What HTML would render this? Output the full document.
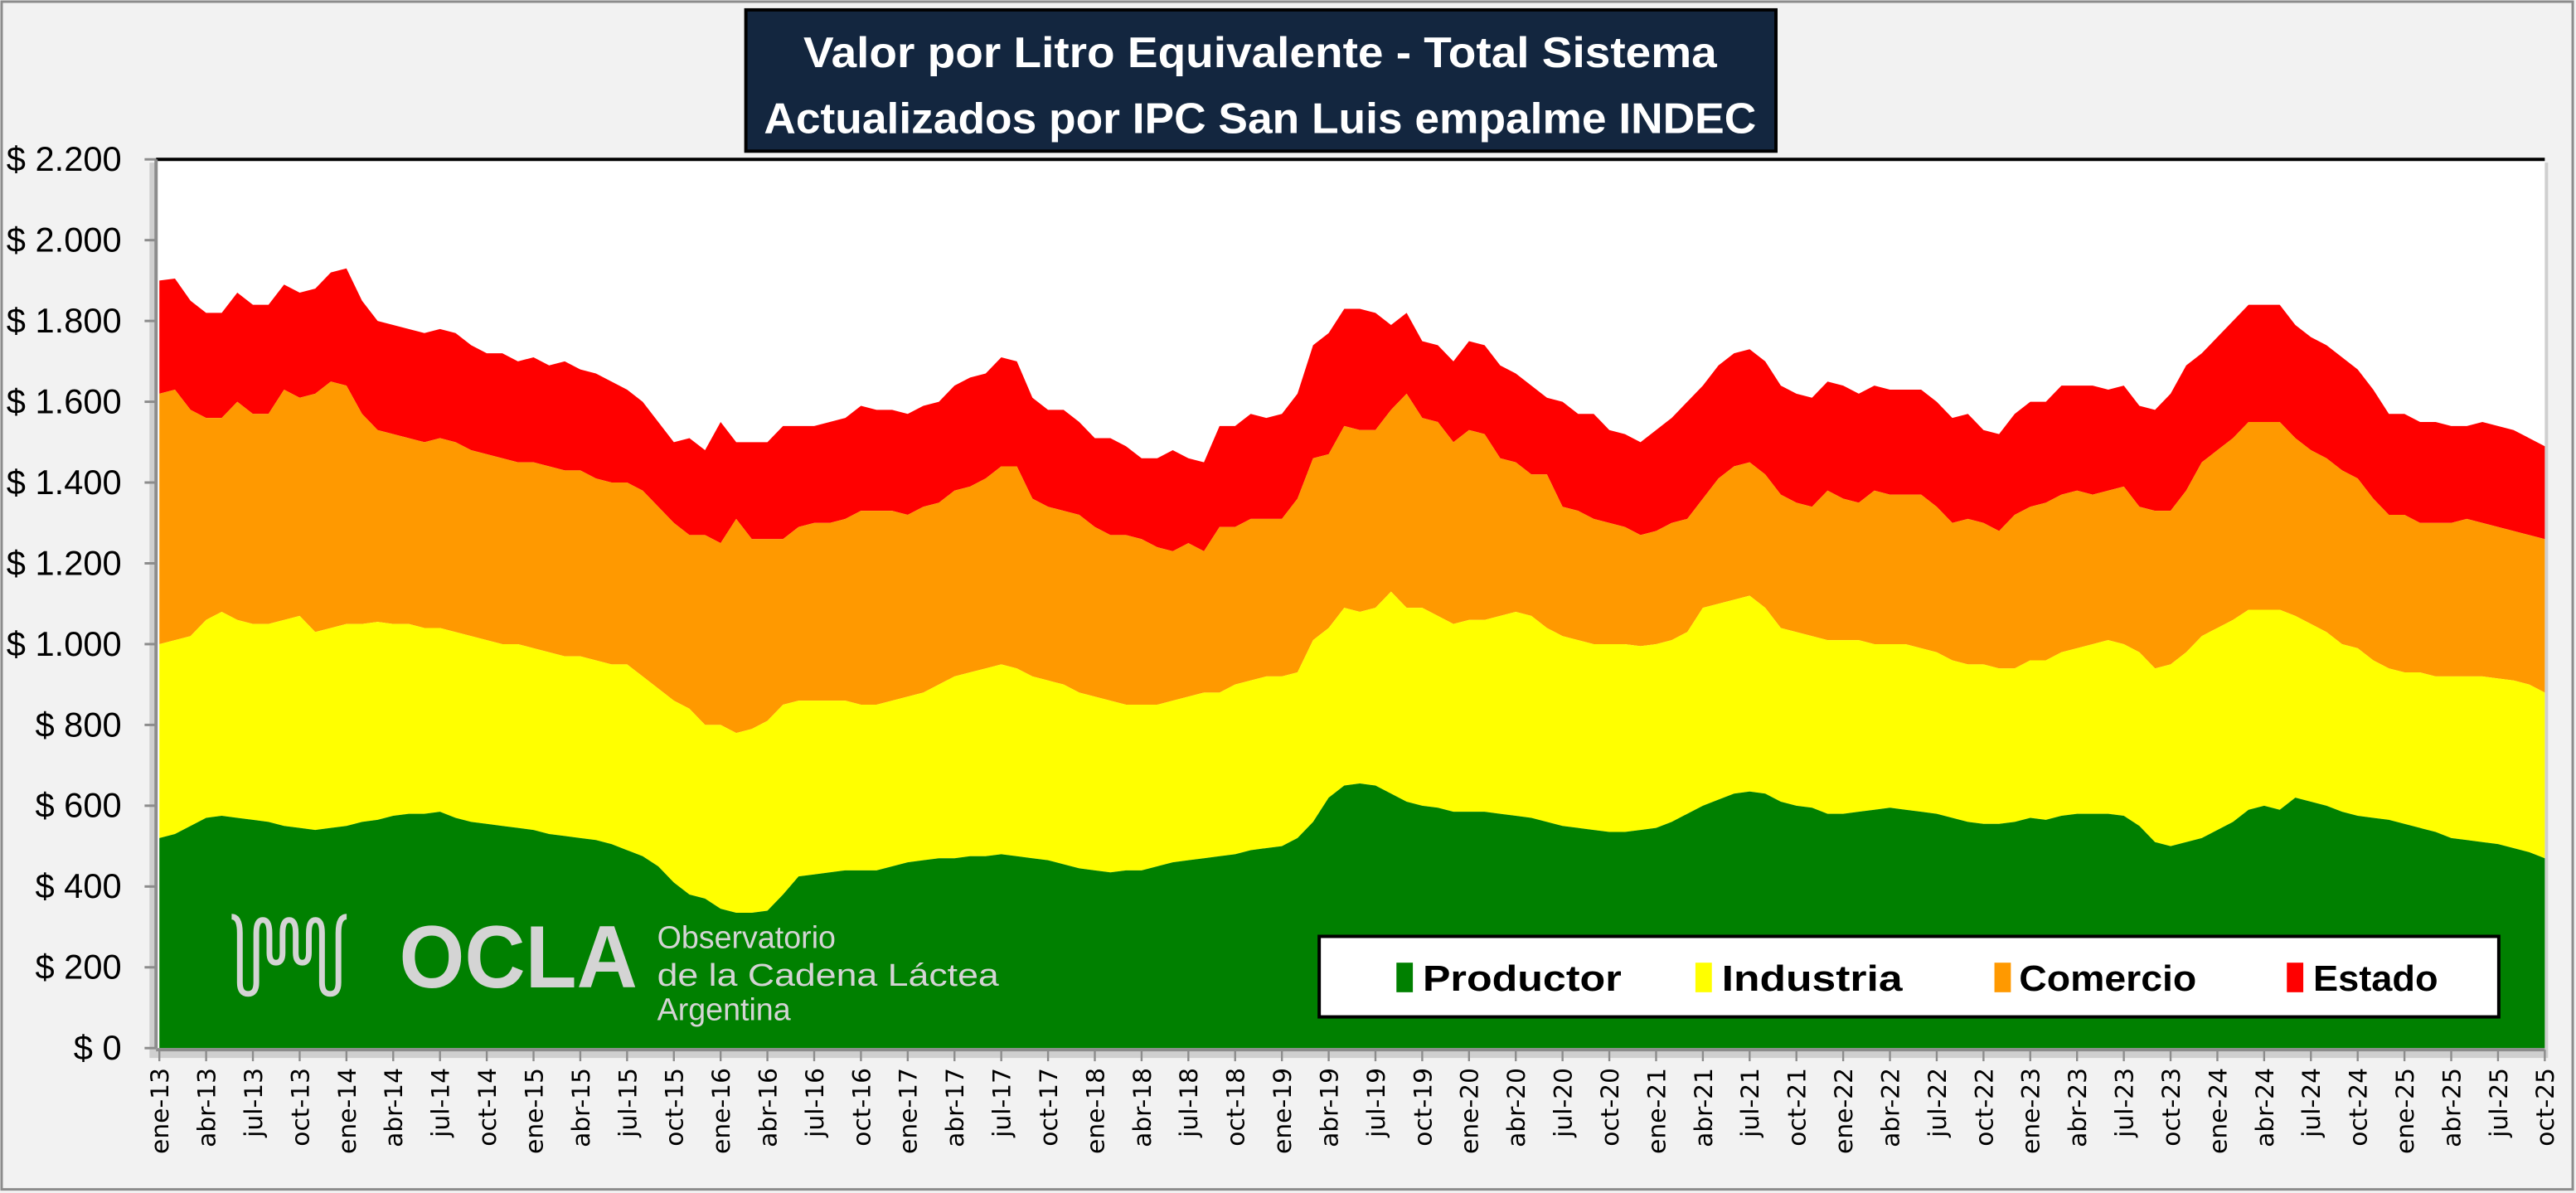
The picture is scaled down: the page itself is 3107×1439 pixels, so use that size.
<!DOCTYPE html>
<html><head><meta charset="utf-8">
<style>
html,body{margin:0;padding:0;background:#f2f2f2;}
svg{display:block;}
</style></head>
<body>
<svg id="chart" width="3107" height="1439" viewBox="0 0 1568 726.2" xmlns="http://www.w3.org/2000/svg" font-family="'Liberation Sans', sans-serif">
<rect x="1" y="1" width="1565" height="723" fill="#f2f2f2" stroke="#8c8c8c" stroke-width="1.5"/>
<rect x="91" y="99" width="1460" height="545" fill="#cfcfcf"/>
<rect x="95" y="97" width="1454" height="541" fill="#ffffff"/>
<g id="areas"></g>
<line x1="95" y1="97" x2="1549" y2="97" stroke="#000" stroke-width="2"/>
<line x1="95" y1="97" x2="95" y2="638" stroke="#8c8c8c" stroke-width="2"/>
<line x1="95" y1="639" x2="1549" y2="639" stroke="#8c8c8c" stroke-width="2"/>
<g id="yaxis"></g>
<g id="xaxis"></g>

<g fill="none" stroke="#d4d4d4" stroke-width="3.5">
<path d="M141,558 q5,0 5,10 v30 q0,7 5,7 q5,0 5,-7 v-30 q0,-8 4,-8 q4,0 4,8 v12 q0,6 4,6 q4,0 4,-6 v-12 q0,-8 4,-8 q4,0 4,8 v12 q0,6 4,6 q4,0 4,-6 v-12 q0,-8 4,-8 q4,0 4,8 v30 q0,7 5,7 q5,0 5,-7 v-30 q0,-10 5,-10"/>
</g>
<text x="243" y="601" font-size="54" font-weight="bold" fill="#d4d4d4" textLength="145" lengthAdjust="spacingAndGlyphs">OCLA</text>
<text x="400" y="577" font-size="19" fill="#d4d4d4">Observatorio</text>
<text x="400" y="600" font-size="19" fill="#d4d4d4" textLength="208" lengthAdjust="spacingAndGlyphs">de la Cadena Láctea</text>
<text x="400" y="621" font-size="19" fill="#d4d4d4">Argentina</text>

<g>
<rect x="803" y="570" width="718" height="49" fill="#fff" stroke="#000" stroke-width="2"/>
<rect x="850" y="586" width="10" height="18" fill="#008000"/>
<text x="866" y="603" font-size="22" font-weight="bold" textLength="121" lengthAdjust="spacingAndGlyphs">Productor</text>
<rect x="1032" y="586" width="10" height="18" fill="#ffff00"/>
<text x="1048" y="603" font-size="22" font-weight="bold" textLength="110" lengthAdjust="spacingAndGlyphs">Industria</text>
<rect x="1214" y="586" width="10" height="18" fill="#ff9900"/>
<text x="1229" y="603" font-size="22" font-weight="bold" textLength="108" lengthAdjust="spacingAndGlyphs">Comercio</text>
<rect x="1392" y="586" width="10" height="18" fill="#ff0000"/>
<text x="1408" y="603" font-size="22" font-weight="bold" textLength="76" lengthAdjust="spacingAndGlyphs">Estado</text>
</g>

<g>
<rect x="454" y="6" width="627" height="86" fill="#13263f" stroke="#000" stroke-width="2"/>
<text x="767" y="41" text-anchor="middle" font-size="26" font-weight="bold" fill="#fff" textLength="556" lengthAdjust="spacingAndGlyphs">Valor por Litro Equivalente - Total Sistema</text>
<text x="767" y="81" text-anchor="middle" font-size="26" font-weight="bold" fill="#fff" textLength="604" lengthAdjust="spacingAndGlyphs">Actualizados por IPC San Luis empalme INDEC</text>
</g>
</svg>
<script>
// cumulative stacked levels (monthly, ene-13 .. oct-25)
const productor = [
520,530,550,570,575,570,565,560,550,545,540,545,
550,560,565,575,580,580,585,570,560,555,550,545,
540,530,525,520,515,505,490,475,450,410,380,370,
345,335,335,340,380,425,430,435,440,440,440,450,
460,465,470,470,475,475,480,475,470,465,455,445,
440,435,440,440,450,460,465,470,475,480,490,495,
500,520,560,620,650,655,650,630,610,600,595,585,
585,585,580,575,570,560,550,545,540,535,535,540,
545,560,580,600,615,630,635,630,610,600,595,580,
580,585,590,595,590,585,580,570,560,555,555,560,
570,565,575,580,580,580,575,550,510,500,510,520,
540,560,590,600,590,620,610,600,585,575,570,565,
555,545,535,520,515,510,505,495,485,470];
const hastaIndustria = [
1000,1010,1020,1060,1080,1060,1050,1050,1060,1070,1030,1040,
1050,1050,1055,1050,1050,1040,1040,1030,1020,1010,1000,1000,
990,980,970,970,960,950,950,920,890,860,840,800,
800,780,790,810,850,860,860,860,860,850,850,860,
870,880,900,920,930,940,950,940,920,910,900,880,
870,860,850,850,850,860,870,880,880,900,910,920,
920,930,1010,1040,1090,1080,1090,1130,1090,1090,1070,1050,
1060,1060,1070,1080,1070,1040,1020,1010,1000,1000,1000,995,
1000,1010,1030,1090,1100,1110,1120,1090,1040,1030,1020,1010,
1010,1010,1000,1000,1000,990,980,960,950,950,940,940,
960,960,980,990,1000,1010,1000,980,940,950,980,1020,
1040,1060,1085,1085,1085,1070,1050,1030,1000,990,960,940,
930,930,920,920,920,920,915,910,900,880];
const hastaComercio = [
1620,1630,1580,1560,1560,1600,1570,1570,1630,1610,1620,1650,
1640,1570,1530,1520,1510,1500,1510,1500,1480,1470,1460,1450,
1450,1440,1430,1430,1410,1400,1400,1380,1340,1300,1270,1270,
1250,1310,1260,1260,1260,1290,1300,1300,1310,1330,1330,1330,
1320,1340,1350,1380,1390,1410,1440,1440,1360,1340,1330,1320,
1290,1270,1270,1260,1240,1230,1250,1230,1290,1290,1310,1310,
1310,1360,1460,1470,1540,1530,1530,1580,1620,1560,1550,1500,
1530,1520,1460,1450,1420,1420,1340,1330,1310,1300,1290,1270,
1280,1300,1310,1360,1410,1440,1450,1420,1370,1350,1340,1380,
1360,1350,1380,1370,1370,1370,1340,1300,1310,1300,1280,1320,
1340,1350,1370,1380,1370,1380,1390,1340,1330,1330,1380,1450,
1480,1510,1550,1550,1550,1510,1480,1460,1430,1410,1360,1320,
1320,1300,1300,1300,1310,1300,1290,1280,1270,1260];
const hastaEstado = [
1900,1905,1850,1820,1820,1870,1840,1840,1890,1870,1880,1920,
1930,1850,1800,1790,1780,1770,1780,1770,1740,1720,1720,1700,
1710,1690,1700,1680,1670,1650,1630,1600,1550,1500,1510,1480,
1550,1500,1500,1500,1540,1540,1540,1550,1560,1590,1580,1580,
1570,1590,1600,1640,1660,1670,1710,1700,1610,1580,1580,1550,
1510,1510,1490,1460,1460,1480,1460,1450,1540,1540,1570,1560,
1570,1620,1740,1770,1830,1830,1820,1790,1820,1750,1740,1700,
1750,1740,1690,1670,1640,1610,1600,1570,1570,1530,1520,1500,
1530,1560,1600,1640,1690,1720,1730,1700,1640,1620,1610,1650,
1640,1620,1640,1630,1630,1630,1600,1560,1570,1530,1520,1570,
1600,1600,1640,1640,1640,1630,1640,1590,1580,1620,1690,1720,
1760,1800,1840,1840,1840,1790,1760,1740,1710,1680,1630,1570,
1570,1550,1550,1540,1540,1550,1540,1530,1510,1490];
const yTicks = [0,200,400,600,800,1000,1200,1400,1600,1800,2000,2200];
const yTickLabels = ["$ 0","$ 200","$ 400","$ 600","$ 800","$ 1.000","$ 1.200","$ 1.400","$ 1.600","$ 1.800","$ 2.000","$ 2.200"];
const monthNames = ["ene","feb","mar","abr","may","jun","jul","ago","sep","oct","nov","dic"];
const startYear = 13;

const NS = "http://www.w3.org/2000/svg";
const X0 = 97, X1 = 1549, Y0 = 638, Y1 = 97, YMAX = 2200;
const n = productor.length;
function xScale(i){ return X0 + (X1 - X0) * i / (n - 1); }
function yScale(v){ return Y0 - (Y0 - Y1) * v / YMAX; }

const areas = document.getElementById('areas');
const layers = [
  {top: hastaEstado, bottom: hastaComercio, color: "#ff0000", name: "area-estado"},
  {top: hastaComercio, bottom: hastaIndustria, color: "#ff9900", name: "area-comercio"},
  {top: hastaIndustria, bottom: productor, color: "#ffff00", name: "area-industria"},
  {top: productor, bottom: null, color: "#008000", name: "area-productor"}
];
layers.forEach(L => {
  let d = "";
  for (let i = 0; i < n; i++) d += (i ? "L" : "M") + xScale(i).toFixed(2) + "," + yScale(L.top[i]).toFixed(2);
  for (let i = n - 1; i >= 0; i--) d += "L" + xScale(i).toFixed(2) + "," + yScale(L.bottom ? L.bottom[i] : 0).toFixed(2);
  d += "Z";
  const p = document.createElementNS(NS, "path");
  p.setAttribute("d", d);
  p.setAttribute("fill", L.color);
  
  
  areas.appendChild(p);
});

const yaxis = document.getElementById('yaxis');
yTicks.forEach((v, k) => {
  const t = document.createElementNS(NS, "line");
  t.setAttribute("x1", 88); t.setAttribute("x2", 95);
  t.setAttribute("y1", yScale(v)); t.setAttribute("y2", yScale(v));
  t.setAttribute("stroke", "#8c8c8c"); t.setAttribute("stroke-width", "1.5");
  
  
  yaxis.appendChild(t);
  const tx = document.createElementNS(NS, "text");
  tx.setAttribute("x", 74); tx.setAttribute("y", yScale(v) + 7);
  tx.setAttribute("text-anchor", "end"); tx.setAttribute("font-size", "21");
  tx.textContent = yTickLabels[k];
  
  
  yaxis.appendChild(tx);
});

const xaxis = document.getElementById('xaxis');
for (let i = 0; i < n; i += 3) {
  const x = xScale(i);
  const t = document.createElementNS(NS, "line");
  t.setAttribute("x1", x); t.setAttribute("x2", x);
  t.setAttribute("y1", 639); t.setAttribute("y2", 646);
  t.setAttribute("stroke", "#8c8c8c"); t.setAttribute("stroke-width", "1.2");
  
  
  xaxis.appendChild(t);
  const label = monthNames[i % 12] + "-" + (startYear + Math.floor(i / 12));
  const tx = document.createElementNS(NS, "text");
  tx.setAttribute("transform", "translate(" + (x + 5.5) + ",650) rotate(-90)");
  tx.setAttribute("text-anchor", "end");
  tx.setAttribute("font-size", "15");
  tx.setAttribute("font-family", "'DejaVu Sans', sans-serif");
  tx.textContent = label;
  
  
  xaxis.appendChild(tx);
}
</script>
</body></html>
